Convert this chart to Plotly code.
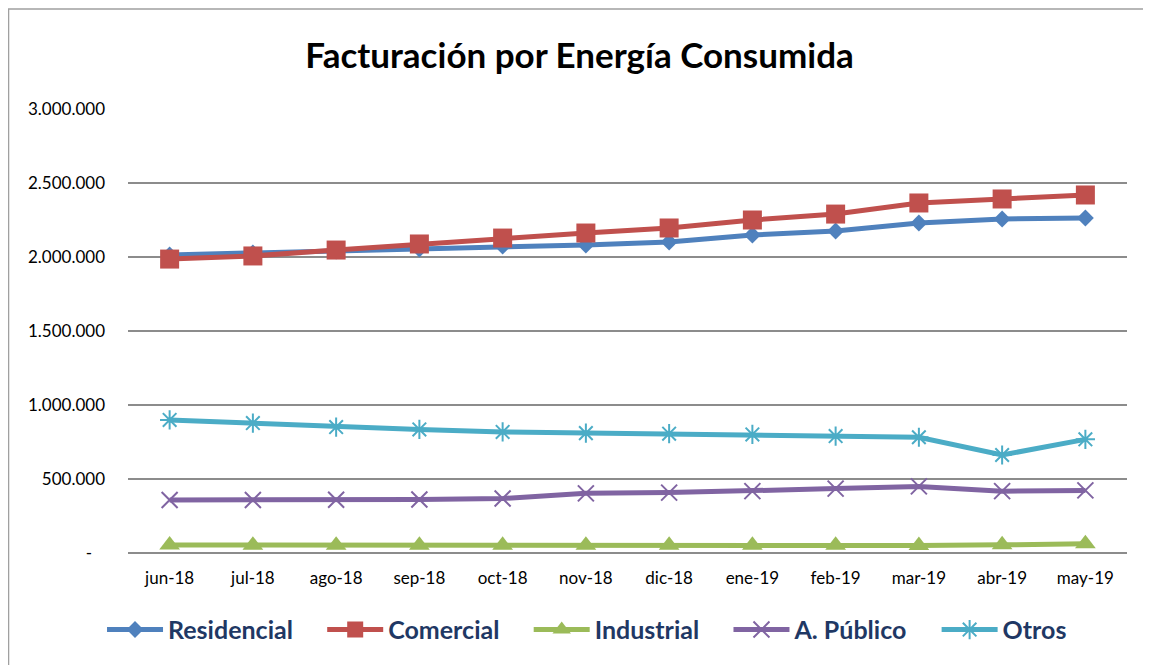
import plotly.graph_objects as go

months = ["jun-18", "jul-18", "ago-18", "sep-18", "oct-18", "nov-18",
          "dic-18", "ene-19", "feb-19", "mar-19", "abr-19", "may-19"]
residencial = [2014000, 2027000, 2041000, 2054000, 2074000, 2081000,
               2101000, 2149000, 2176000, 2230000, 2257000, 2264000]
comercial = [1986000, 2007000, 2047000, 2088000, 2128000, 2162000,
             2196000, 2250000, 2290000, 2365000, 2392000, 2419000]
industrial = [54000, 53000, 52000, 52000, 52000, 52000,
              52000, 53000, 53000, 50000, 55000, 62000]
a_publico = [358000, 358000, 360000, 362000, 368000, 403000,
             408000, 418000, 435000, 450000, 418000, 423000]
otros = [899000, 878000, 851000, 835000, 818000, 810000,
         806000, 801000, 790000, 782000, 662000, 768000]

tick_vals = [0, 500000, 1000000, 1500000, 2000000, 2500000, 3000000]
tick_text = ["-\u00a0\u00a0\u00a0", "500.000", "1.000.000", "1.500.000",
             "2.000.000", "2.500.000", "3.000.000"]

series = [
    ("Residencial", residencial, "#4F81BD", "diamond", 13, 0),
    ("Comercial", comercial, "#C0504D", "square", 19, 0),
    ("Industrial", industrial, "#9BBB59", "triangle-up", 18, 0),
    ("A. Público", a_publico, "#8064A2", "x-thin-open", 16, 2),
    ("Otros", otros, "#4BACC6", "asterisk-open", 16, 2),
]

pad = "\u00a0" * 4
fig = go.Figure()
for name, vals, color, sym, size, lw in series:
    fig.add_trace(go.Scatter(
        x=months, y=vals, name=name + pad, mode="lines+markers",
        line=dict(color=color, width=5),
        marker=dict(symbol=sym, size=size, color=color,
                    line=dict(color=color, width=lw)),
    ))

# page body has an 8px margin; figure is sized to compensate
fig.update_layout(
    width=1143, height=657,
    paper_bgcolor="white", plot_bgcolor="white",
    margin=dict(l=120, r=24, t=101, b=112),
    title=dict(text="<b>Facturación por Energía Consumida</b>",
               x=0.5, xanchor="center", y=0.928, yanchor="middle",
               font=dict(family="Lato", size=35, color="black")),
    font=dict(family="Lato", size=17, color="black"),
    showlegend=True,
    legend=dict(orientation="h", x=-0.026, xanchor="left", y=-0.173,
                yanchor="middle", itemwidth=56,
                font=dict(family="Lato", size=25, color="#1F3864", weight="bold"),
                tracegroupgap=0),
    shapes=[dict(type="rect", xref="paper", yref="paper",
                 x0=-0.1196, x1=1.1, y0=-0.3, y1=1.2252,
                 line=dict(color="#A0A0A0", width=1.5), layer="below")],
)
fig.update_xaxes(type="category", range=[-0.5, 11.5], showgrid=False,
                 showline=False, ticks="", ticklabelstandoff=13,
                 tickfont=dict(size=17))
fig.update_yaxes(range=[0, 3000000], tickvals=tick_vals, ticktext=tick_text,
                 showgrid=True, gridcolor="#8C8C8C", gridwidth=1.5,
                 zeroline=True, zerolinecolor="#8C8C8C", zerolinewidth=1.5,
                 ticks="", ticklabelstandoff=22, tickfont=dict(size=17))

fig.write_html("out.html")
